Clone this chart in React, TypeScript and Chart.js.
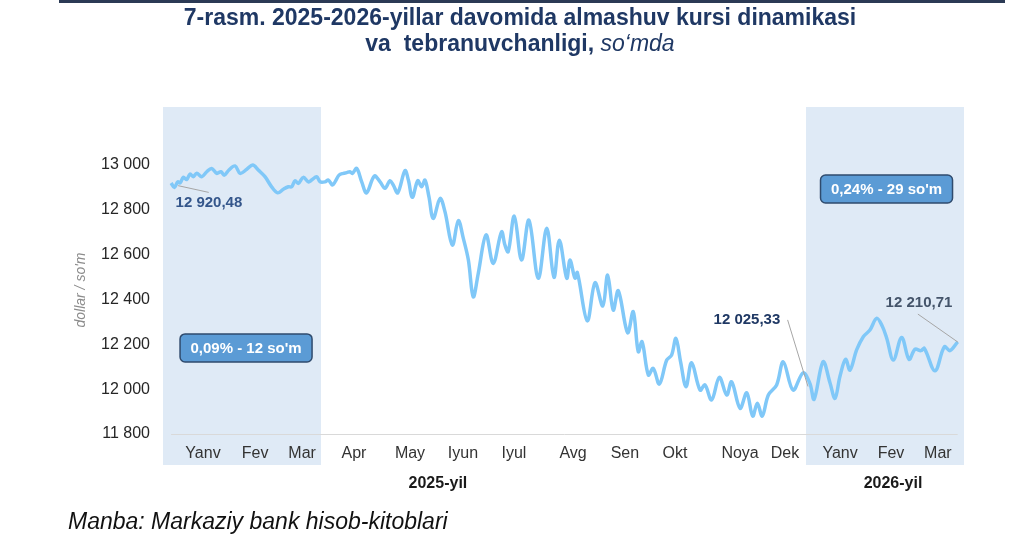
import { useEffect, useRef } from "react";
import { Chart, registerables } from "chart.js";

Chart.register(...registerables);

// Day index (from 1 Jan 2025) and exchange rate, so'm per dollar
const days = [
  0.6, 2.4, 4.3, 5.6, 7.4, 9.3, 11.1, 12.9, 14.8, 17.6, 20.4, 23.1, 25.9, 28.3, 30.1, 32.7, 36.1, 38.9, 42.6, 45.9,
  49.0, 52.7, 56.4, 59.8, 62.9, 65.7, 67.5, 69.4, 71.2, 74.0, 76.8, 78.6, 81.4, 83.3, 86.0, 87.9, 90.1, 91.6, 93.8,
  96.2, 98.1, 99.9, 101.2, 103.6, 106.4, 109.1, 113.4, 116.6, 119.3, 122.1, 123.9, 126.4, 130.4, 132.3, 134.5, 137.5,
  139.7, 141.5, 143.7, 146.1, 149.9, 152.6, 156.7, 160.0, 162.8, 165.6, 168.3, 171.1, 175.4, 179.4, 184.0, 185.9,
  187.7, 191.1, 195.1, 199.2, 204.4, 209.1, 213.1, 216.1, 220.2, 222.0, 224.8, 226.1, 231.6, 235.9, 240.2, 242.9,
  246.0, 248.8, 254.0, 257.1, 259.9, 262.0, 265.5, 268.2, 271.6, 275.7, 278.4, 280.8, 283.4, 286.4, 289.5, 294.2,
  296.9, 300.6, 304.9, 309.0, 311.7, 316.4, 320.1, 323.4, 326.0, 328.7, 332.1, 336.7, 340.4, 345.8, 351.4, 355.2,
  357.5, 362.5, 366.3, 369.1, 371.9, 375.0, 377.4, 381.1, 384.8, 388.5, 392.2, 395.3, 397.8, 401.5, 406.1, 410.2,
  413.5, 416.8, 418.7, 424.6, 429.8, 432.9, 437.2,
];
const rates = [
  12920, 12900, 12925, 12920, 12945, 12936, 12960, 12948, 12963, 12948, 12970, 12985, 12963, 12970, 12955, 12978,
  12996, 12963, 12981, 13000, 12978, 12948, 12903, 12876, 12892, 12903, 12903, 12930, 12918, 12945, 12925, 12933,
  12948, 12925, 12925, 12933, 12911, 12925, 12955, 12963, 12966, 12970, 12963, 12985, 12925, 12876, 12951, 12925,
  12896, 12930, 12911, 12876, 12975, 12933, 12856, 12930, 12903, 12933, 12859, 12762, 12851, 12792, 12643, 12752,
  12673, 12576, 12412, 12517, 12688, 12561, 12702, 12643, 12613, 12772, 12576, 12754, 12495, 12718, 12499, 12665,
  12495, 12576, 12495, 12520, 12305, 12475, 12371, 12509, 12353, 12439, 12252, 12346, 12167, 12212, 12063, 12093,
  12023, 12130, 12152, 12227, 12122, 12011, 12118, 11996, 12019, 11952, 12053, 11974, 12033, 11915, 11984, 11880,
  11937, 11880, 11974, 12019, 12122, 11996, 12073, 12025, 11955, 12122, 12029, 11959, 12059, 12133, 12085, 12175,
  12234, 12264, 12316, 12282, 12227, 12130, 12231, 12133, 12178, 12172, 12182, 12082, 12189, 12172, 12211,
];

const monthLabels = ["Yanv", "Fev", "Mar", "Apr", "May", "Iyun", "Iyul", "Avg", "Sen", "Okt", "Noya", "Dek", "Yanv", "Fev", "Mar"];
const monthPos = [18.3, 47.2, 73.3, 102.1, 133.2, 162.6, 190.9, 223.7, 252.5, 280.3, 316.4, 341.3, 371.9, 400.2, 426.2];
const yTicks = [11800, 12000, 12200, 12400, 12600, 12800, 13000];
const yearLabels = ["2025-yil", "2026-yil"];
const yearPos = [148.7, 401.3];
const shadeRanges = [[-3.9, 83.8], [353.0, 440.7]];

const boxTexts = ["0,09% - 12 so'm", "0,24% - 29 so'm"];
const boxCenters = [[42.2, 12184], [397.7, 12893]];

const valueTexts = ["12 920,48", "12 025,33", "12 210,71"];
const valueTextPos = [[21.6, 12830], [320.2, 12309], [415.7, 12384]];
const valueColors = ["#34568b", "#1f3864", "#44546a"];
const leaderFrom = [[4.5, 12908], [342.8, 12309], [415.1, 12335]];
const leaderTo = [[21.5, 12878], [354.1, 12012], [437.3, 12210]];

const fmt = (v: number) => `${Math.floor(v / 1000)} ${String(v % 1000).padStart(3, "0")}`;
const FONT = "'Liberation Sans', Arial, sans-serif";

const overlay = {
  id: "overlay",
  beforeDraw(chart: any) {
    const { ctx, chartArea, scales } = chart;
    const x = scales.x;
    ctx.save();
    ctx.fillStyle = "#dfeaf6";
    shadeRanges.forEach(([a, b]) => {
      const x0 = x.getPixelForValue(a);
      const x1 = x.getPixelForValue(b);
      ctx.fillRect(x0, chartArea.top, x1 - x0, 465 - chartArea.top);
    });
    ctx.restore();
  },
  beforeDatasetsDraw(chart: any) {
    const { ctx, scales } = chart;
    const x = scales.x;
    const y = scales.y;
    ctx.save();
    ctx.strokeStyle = "#d9d9d9";
    ctx.lineWidth = 1;
    const yb = Math.round(y.getPixelForValue(11800)) + 0.5;
    ctx.beginPath();
    ctx.moveTo(x.getPixelForValue(days[0]), yb);
    ctx.lineTo(x.getPixelForValue(days[days.length - 1]), yb);
    ctx.stroke();
    ctx.restore();
  },
  afterDraw(chart: any) {
    const { ctx, scales } = chart;
    const x = scales.x;
    const y = scales.y;
    ctx.save();
    // leader lines
    ctx.strokeStyle = "#a6a6a6";
    ctx.lineWidth = 1;
    leaderFrom.forEach((f, i) => {
      const t = leaderTo[i];
      ctx.beginPath();
      ctx.moveTo(x.getPixelForValue(f[0]), y.getPixelForValue(f[1]));
      ctx.lineTo(x.getPixelForValue(t[0]), y.getPixelForValue(t[1]));
      ctx.stroke();
    });
    // value labels
    ctx.font = `bold 15px ${FONT}`;
    ctx.textAlign = "center";
    ctx.textBaseline = "middle";
    valueTexts.forEach((t, i) => {
      ctx.fillStyle = valueColors[i];
      ctx.fillText(t, x.getPixelForValue(valueTextPos[i][0]), y.getPixelForValue(valueTextPos[i][1]));
    });
    // boxes
    boxTexts.forEach((t, i) => {
      const cx = x.getPixelForValue(boxCenters[i][0]);
      const cy = y.getPixelForValue(boxCenters[i][1]);
      const w = 132;
      const h = 28;
      ctx.beginPath();
      ctx.roundRect(cx - w / 2, cy - h / 2, w, h, 5);
      ctx.fillStyle = "#5b9bd5";
      ctx.fill();
      ctx.strokeStyle = "#2f4b6e";
      ctx.lineWidth = 1.5;
      ctx.stroke();
      ctx.fillStyle = "#ffffff";
      ctx.font = `bold 15px ${FONT}`;
      ctx.fillText(t, cx, cy + 1);
    });
    // year labels
    ctx.fillStyle = "#1a1a1a";
    ctx.font = `bold 16px ${FONT}`;
    yearLabels.forEach((t, i) => {
      ctx.fillText(t, x.getPixelForValue(yearPos[i]), 484);
    });
    // y title
    ctx.translate(81, 290);
    ctx.rotate(-Math.PI / 2);
    ctx.fillStyle = "#8c8c8c";
    ctx.font = `italic 14px ${FONT}`;
    ctx.fillText("dollar / so'm", 0, 0);
    ctx.restore();
  },
};

export default function App() {
  const ref = useRef<HTMLCanvasElement | null>(null);
  useEffect(() => {
    if (!ref.current) return;
    const chart = new Chart(ref.current, {
      type: "line",
      data: {
        datasets: [
          {
            data: days.map((d, i) => ({ x: d, y: rates[i] })),
            borderColor: "#80c8f8",
            borderWidth: 3.5,
            pointRadius: 0,
            tension: 0.35,
            fill: false,
          },
        ],
      },
      options: {
        animation: false,
        responsive: false,
        layout: { padding: { top: 107, right: 60, left: 0, bottom: 0 } },
        plugins: { legend: { display: false }, tooltip: { enabled: false }, title: { display: false } },
        scales: {
          x: {
            type: "linear",
            min: -3.9,
            max: 440.7,
            grid: { display: false, drawTicks: false },
            border: { display: false },
            afterBuildTicks: (s: any) => {
              s.ticks = monthPos.map((v) => ({ value: v }));
            },
            afterFit: (s: any) => {
              s.height = 114;
            },
            ticks: {
              autoSkip: false,
              maxRotation: 0,
              padding: 10,
              color: "#333333",
              font: { size: 16, family: FONT },
              callback: (_v: any, i: number) => monthLabels[i],
            },
          },
          y: {
            min: 11800,
            max: 13259,
            grid: { display: false, drawTicks: false },
            border: { display: false },
            afterBuildTicks: (s: any) => {
              s.ticks = yTicks.map((v) => ({ value: v }));
            },
            afterFit: (s: any) => {
              s.width = 163;
            },
            ticks: {
              padding: 13,
              color: "#262626",
              font: { size: 16, family: FONT },
              callback: (v: any) => fmt(Number(v)),
            },
          },
        },
      },
      plugins: [overlay],
    });
    return () => chart.destroy();
  }, []);

  return (
    <div style={{ position: "absolute", left: 0, top: 0, width: 1024, height: 548, background: "#fff", overflow: "hidden" }}>
      <div style={{ position: "absolute", left: 59, top: 0, width: 946, height: 3, background: "#2b3a55" }} />
      <canvas ref={ref} width={1024} height={548} style={{ position: "absolute", left: 0, top: 0, width: 1024, height: 548 }} />
      <div
        style={{
          position: "absolute",
          left: 8,
          top: 4,
          width: 1024,
          textAlign: "center",
          color: "#1f3864",
          fontFamily: "'Liberation Sans', Arial, sans-serif",
          fontWeight: "bold",
          fontSize: 23,
          lineHeight: "26px",
        }}
      >
        <div>7-rasm. 2025-2026-yillar davomida almashuv kursi dinamikasi</div>
        <div>
          va&nbsp; tebranuvchanligi, <span style={{ fontStyle: "italic", fontWeight: "normal" }}>so‘mda</span>
        </div>
      </div>
      <div
        style={{
          position: "absolute",
          left: 68,
          top: 508,
          fontFamily: "'Liberation Sans', Arial, sans-serif",
          fontStyle: "italic",
          fontSize: 23,
          lineHeight: "26px",
          color: "#111",
        }}
      >
        Manba: Markaziy bank hisob-kitoblari
      </div>
    </div>
  );
}
